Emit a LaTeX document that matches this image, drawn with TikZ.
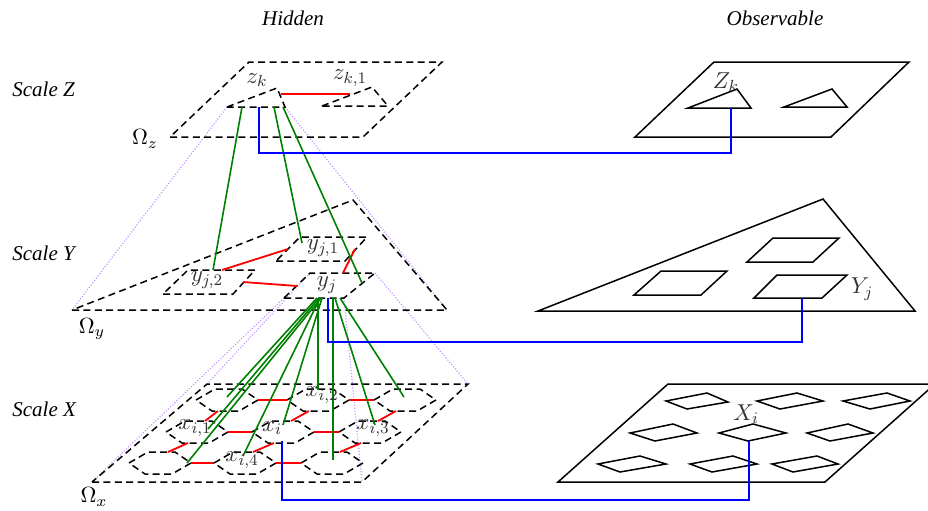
\RequirePackage{fix-cm}
\documentclass[tikz,border=0pt]{standalone}
\usepackage{fontspec}
\newfontfamily\capfont{Liberation Serif}
\usetikzlibrary{calc}
\definecolor{projviolet}{rgb}{0.76,0.58,1.0}
\definecolor{linkgreen}{rgb}{0.0,0.5,0.0}
% one hexagonal cell of the finest hidden layer, given by its centre
\newcommand\hexcell[1]{\draw[domline] ($(#1)+(-31,0)$) -- ++(19,-11) -- ++(27,0) -- ++(16,11) -- ++(-19,11) -- ++(-27,0) -- cycle;}
\begin{document}
\begin{tikzpicture}[x=0.5pt,y=-0.5pt,
  domline/.style={line width=0.75pt, dash pattern=on 3.5pt off 2.2pt},
  obsline/.style={line width=0.75pt, line join=miter},
  redlink/.style={red, line width=0.9pt},
  parentlink/.style={linkgreen, line width=0.8pt},
  obslink/.style={blue, line width=1.2pt},
  projline/.style={projviolet, line width=0.6pt, dash pattern=on 0.55pt off 0.9pt},
  lbl/.style={font=\fontsize{11.5}{13}\selectfont, text=black!80, inner sep=0pt},
  omega/.style={font=\fontsize{11}{13}\selectfont, inner sep=0pt},
  head/.style={font=\capfont\itshape\fontsize{10.5}{12}\selectfont, inner sep=0pt}]
\useasboundingbox (0,0) rectangle (928,510);

% ---------- headings ----------
\node[head] (hidden) at (293,18) {Hidden};
\node[head] (observable) at (775,18) {Observable};
\node[head, anchor=west] (scz) at (12,89) {Scale Z};
\node[head, anchor=west] (scy) at (12,253) {Scale Y};
\node[head, anchor=west] (scx) at (12,409) {Scale X};

% ---------- cell corners of the hidden layers ----------
\coordinate (zkA) at (227,107); \coordinate (zkB) at (285,107); \coordinate (zkC) at (277,88);
\coordinate (zkoA) at (322,106); \coordinate (zkoB) at (388,106); \coordinate (zkoC) at (372,87);
\coordinate (yjA) at (284,298); \coordinate (yjB) at (344,298); \coordinate (yjC) at (375,273); \coordinate (yjD) at (310,273);
\coordinate (yaA) at (276,261); \coordinate (yaB) at (345,261); \coordinate (yaC) at (367,237); \coordinate (yaD) at (300,237);
\coordinate (ybA) at (163,294); \coordinate (ybB) at (233,294); \coordinate (ybC) at (255,270); \coordinate (ybD) at (188,270);
% domains
\coordinate (OzA) at (170,137); \coordinate (OzB) at (363,137); \coordinate (OzC) at (442,62); \coordinate (OzD) at (249,62);
\coordinate (OyA) at (72,310); \coordinate (OyB) at (447,310); \coordinate (OyC) at (353,200);
\coordinate (OxA) at (92,482); \coordinate (OxB) at (362,482); \coordinate (OxC) at (468,384); \coordinate (OxD) at (207,384);
% centres of the nine finest cells
\coordinate (c11) at (227,400); \coordinate (c12) at (318,400); \coordinate (c13) at (405,400);
\coordinate (c21) at (197,432); \coordinate (c22) at (283,432); \coordinate (c23) at (370,432);
\coordinate (c31) at (160,463); \coordinate (c32) at (245,463); \coordinate (c33) at (332,463);

% ---------- projections of a cell onto the next finer domain ----------
\draw[projline] (zkA) -- (OyA);
\draw[projline] (zkB) -- (OyB);
\draw[projline] (yjA) -- (OxA);
\draw[projline] (yjD) -- (OxD);
\draw[projline] (yjC) -- (OxC);
\draw[projline] (yjB) -- (OxB);

% ---------- hidden domains ----------
\draw[domline] (OzA) -- (OzB) -- (OzC) -- (OzD) -- cycle;
\draw[domline] (OyA) -- (OyB) -- (OyC) -- cycle;
\draw[domline] (OxA) -- (OxB) -- (OxC) -- (OxD) -- cycle;

% ---------- hidden cells ----------
\draw[domline] (zkA) -- (zkC) -- (zkB) -- cycle;
\draw[domline] (zkoA) -- (zkoC) -- (zkoB) -- cycle;
\draw[domline] (yjA) -- (yjB) -- (yjC) -- (yjD) -- cycle;
\draw[domline] (yaA) -- (yaB) -- (yaC) -- (yaD) -- cycle;
\draw[domline] (ybA) -- (ybB) -- (ybC) -- (ybD) -- cycle;
\foreach \c in {c11,c12,c13,c21,c22,c23,c31,c32,c33} {\hexcell{\c}}

% ---------- neighbour links ----------
\draw[redlink] (281,94) -- (350,94);
\draw[redlink] (222,270) -- (288,249);
\draw[redlink] (243,282) -- (297,286);
\draw[redlink] (355,249) -- (343,273);
\foreach \r in {1,2,3} {
  \draw[redlink] ($(c\r1)+(31,0)$) -- ($(c\r2)+(-31,0)$);
  \draw[redlink] ($(c\r2)+(31,0)$) -- ($(c\r3)+(-31,0)$);
}
\foreach \col in {1,2,3} {
  \draw[redlink] ($(c2\col)+(8,-11)$) -- ($(c1\col)+(-9,11)$);
  \draw[redlink] ($(c3\col)+(8,-11)$) -- ($(c2\col)+(-9,11)$);
}

% ---------- parent-child links ----------
\coordinate (zkbot) at (259,107);
\draw[parentlink] ($(zkbot)+(-17,0)$) -- (213,270);
\draw[parentlink] ($(zkbot)+(15,0)$) -- (302,243);
\draw[parentlink] ($(zkbot)+(24,0)$) -- (362,283);
\coordinate (yjbot) at (328,298);
\draw[parentlink] ($(yjbot)+(-11,0)$) -- ($(c11)+(0,-3)$);
\draw[parentlink] ($(yjbot)+(-9,0)$) -- ($(c21)+(11,-3)$);
\draw[parentlink] ($(yjbot)+(-7,0)$) -- ($(c31)+(27,0)$);
\draw[parentlink] ($(yjbot)+(-8,0)$) -- ($(c32)+(-2,-7)$);
\draw[parentlink] ($(yjbot)+(-6,0)$) -- ($(c22)+(0,-7)$);
\draw[parentlink] ($(yjbot)+(-10,0)$) -- ($(c12)+(0,-10)$);
\draw[parentlink] ($(yjbot)+(5,0)$) -- ($(c33)+(1,-3)$);
\draw[parentlink] ($(yjbot)+(7,0)$) -- ($(c23)+(5,-7)$);
\draw[parentlink] ($(yjbot)+(12,0)$) -- ($(c13)+(-1,-3)$);

% ---------- observable layers ----------
\draw[obsline] (635,137) -- (831,137) -- (909,62) -- (714,62) -- cycle;
\draw[obsline] (688,108) -- (737,89) -- (751,108) -- cycle;
\draw[obsline] (784,107) -- (832,89) -- (847,107) -- cycle;

\draw[obsline] (538,311) -- (915,311) -- (823,199) -- cycle;
\draw[obsline] (747,262) -- (813,262) -- (839,238) -- (773,238) -- cycle;
\draw[obsline] (634,295) -- (701,295) -- (727,271) -- (661,271) -- cycle;
\draw[obsline] (754,298) -- (822,298) -- (847,275) -- (777,275) -- cycle;

\draw[obsline] (558,482) -- (825,482) -- (935,384) -- (668,384) -- cycle;
\draw[obsline] (666,401) -- (707,393) -- (728,402) -- (687,409) -- cycle;
\draw[obsline] (757,401) -- (797,393) -- (823,401) -- (780,409) -- cycle;
\draw[obsline] (843,401) -- (887,393) -- (910,401) -- (870,409) -- cycle;
\draw[obsline] (630,433) -- (673,424) -- (697,433) -- (655,441) -- cycle;
\draw[obsline] (719,433) -- (753,424) -- (786,433) -- (748,441) -- cycle;
\draw[obsline] (807,433) -- (848,424) -- (873,433) -- (830,441) -- cycle;
\draw[obsline] (598,464) -- (640,456) -- (666,464) -- (620,472) -- cycle;
\draw[obsline] (690,464) -- (733,456) -- (757,464) -- (712,472) -- cycle;
\draw[obsline] (772,464) -- (817,456) -- (838,464) -- (793,472) -- cycle;

% ---------- hidden-to-observable links ----------
\coordinate (Zkbot) at (731,108);
\coordinate (Yjbot) at (802,298);
\coordinate (Xibot) at (749,441);
\draw[obslink] (zkbot) -- ++(0,46) -| (Zkbot);
\draw[obslink] (yjbot) -- ++(0,44) -| (Yjbot);
\draw[obslink] ($(c22)+(-1,9)$) -- (282,500) -| (Xibot);

% ---------- labels ----------
\node[lbl] (lzk) at (257,80) {$z_k$};
\node[lbl] (lzk1) at (350,78) {$z_{k,1}$};
\node[lbl] (lyj) at (327,285) {$y_j$};
\node[lbl] (lyj1) at (323,248) {$y_{j,1}$};
\node[lbl] (lyj2) at (207,280) {$y_{j,2}$};
\node[lbl] (lxi1) at (195,428) {$x_{i,1}$};
\node[lbl] (lxi) at (272,428) {$x_i$};
\node[lbl] (lxi2) at (322,395) {$x_{i,2}$};
\node[lbl] (lxi3) at (373,428) {$x_{i,3}$};
\node[lbl] (lxi4) at (242,460) {$x_{i,4}$};
\node[lbl] (lZk) at (726,82) {$Z_k$};
\node[lbl] (lYj) at (862,289) {$Y_j$};
\node[lbl] (lXi) at (746,414) {$X_i$};
\node[omega] (Omz) at (145,139) {$\Omega_z$};
\node[omega] (Omy) at (92,329) {$\Omega_y$};
\node[omega] (Omx) at (94,497) {$\Omega_x$};
\end{tikzpicture}
\end{document}
